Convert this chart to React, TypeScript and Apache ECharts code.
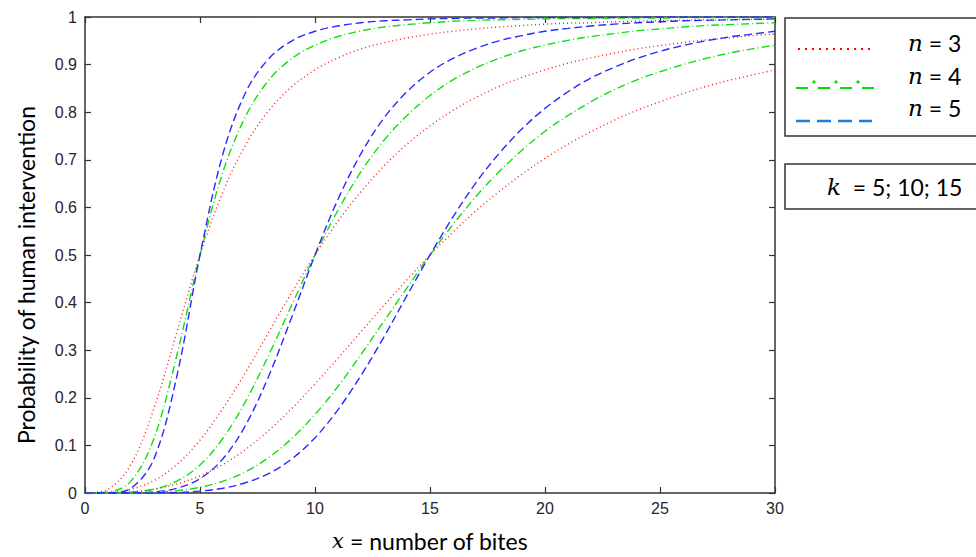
import React, { useEffect, useRef } from "react";
import * as echarts from "echarts";

// sample positions (number of bites)
const xs = [0, 1, 2, 3, 4, 5, 6, 7, 8, 9, 10, 11, 12, 13, 14, 15, 16, 17, 18, 19, 20, 21, 22, 23, 24, 25, 26, 27, 28, 29, 30];

// k = 5
const k5n3 = [0, 0.008, 0.06, 0.178, 0.339, 0.5, 0.633, 0.733, 0.804, 0.854, 0.889, 0.914, 0.933, 0.946, 0.956, 0.964, 0.97, 0.975, 0.979, 0.982, 0.985, 0.987, 0.988, 0.99, 0.991, 0.992, 0.993, 0.994, 0.994, 0.995, 0.995];
const k5n4 = [0, 0.002, 0.025, 0.115, 0.291, 0.5, 0.675, 0.793, 0.868, 0.913, 0.941, 0.959, 0.971, 0.979, 0.984, 0.988, 0.991, 0.993, 0.994, 0.995, 0.996, 0.997, 0.997, 0.998, 0.998, 0.998, 0.999, 0.999, 0.999, 0.999, 0.999];
const k5n5 = [0, 0.0003, 0.01, 0.072, 0.247, 0.5, 0.713, 0.843, 0.913, 0.95, 0.97, 0.981, 0.988, 0.992, 0.994, 0.996, 0.997, 0.998, 0.998, 0.999, 0.999, 0.999, 0.999, 0.999, 1, 1, 1, 1, 1, 1, 1];
// k = 10
const k10n3 = [0, 0.001, 0.008, 0.026, 0.06, 0.111, 0.178, 0.255, 0.339, 0.422, 0.5, 0.571, 0.633, 0.687, 0.733, 0.771, 0.804, 0.831, 0.854, 0.873, 0.889, 0.903, 0.914, 0.924, 0.933, 0.94, 0.946, 0.952, 0.956, 0.961, 0.964];
const k10n4 = [0, 0.0001, 0.002, 0.008, 0.025, 0.059, 0.115, 0.194, 0.291, 0.396, 0.5, 0.594, 0.675, 0.741, 0.793, 0.835, 0.868, 0.893, 0.913, 0.929, 0.941, 0.951, 0.959, 0.965, 0.971, 0.975, 0.979, 0.982, 0.984, 0.986, 0.988];
const k10n5 = [0, 0, 0.0003, 0.002, 0.01, 0.03, 0.072, 0.144, 0.247, 0.371, 0.5, 0.617, 0.713, 0.788, 0.843, 0.884, 0.913, 0.934, 0.95, 0.961, 0.97, 0.976, 0.981, 0.985, 0.988, 0.99, 0.992, 0.993, 0.994, 0.995, 0.996];
// k = 15
const k15n3 = [0, 0.0003, 0.002, 0.008, 0.019, 0.036, 0.06, 0.092, 0.132, 0.178, 0.229, 0.283, 0.339, 0.394, 0.448, 0.5, 0.548, 0.593, 0.633, 0.67, 0.703, 0.733, 0.759, 0.783, 0.804, 0.822, 0.839, 0.854, 0.867, 0.878, 0.889];
const k15n4 = [0, 0, 0.0003, 0.002, 0.005, 0.012, 0.025, 0.045, 0.075, 0.115, 0.165, 0.224, 0.291, 0.361, 0.431, 0.5, 0.564, 0.623, 0.675, 0.72, 0.76, 0.793, 0.822, 0.847, 0.868, 0.885, 0.9, 0.913, 0.924, 0.933, 0.941];
const k15n5 = [0, 0, 0, 0.0003, 0.001, 0.004, 0.01, 0.022, 0.041, 0.072, 0.116, 0.175, 0.247, 0.328, 0.415, 0.5, 0.58, 0.652, 0.713, 0.765, 0.808, 0.843, 0.872, 0.894, 0.913, 0.928, 0.94, 0.95, 0.958, 0.964, 0.97];

const legendLabels = ["3", "4", "5"];
const kLabel = "= 5; 10; 15";
const yTitle = "Probability of human intervention";

const RED = "#ff1a1a";
const GREEN = "#10e010";
const BLUE = "#2a2aff";

const styles: Record<string, { color: string; type: number[] }> = {
  n3: { color: RED, type: [1, 3] },
  n4: { color: GREEN, type: [8, 3, 1, 3] },
  n5: { color: BLUE, type: [8, 4] },
};

const seriesDefs = [
  { name: "n = 3, k = 5", vals: k5n3, s: "n3" },
  { name: "n = 4, k = 5", vals: k5n4, s: "n4" },
  { name: "n = 5, k = 5", vals: k5n5, s: "n5" },
  { name: "n = 3, k = 10", vals: k10n3, s: "n3" },
  { name: "n = 4, k = 10", vals: k10n4, s: "n4" },
  { name: "n = 5, k = 10", vals: k10n5, s: "n5" },
  { name: "n = 3, k = 15", vals: k15n3, s: "n3" },
  { name: "n = 4, k = 15", vals: k15n4, s: "n4" },
  { name: "n = 5, k = 15", vals: k15n5, s: "n5" },
];

export default function App() {
  const ref = useRef<HTMLDivElement>(null);
  useEffect(() => {
    if (!ref.current) return;
    const chart = echarts.init(ref.current, undefined, { renderer: "svg" });
    const mkLine = () => ({ show: true, onZero: false, lineStyle: { color: "#333", width: 1.5 } });
    const mkTick = () => ({ show: true, inside: true, length: 6, lineStyle: { color: "#333", width: 1.2 } });
    const labelFont = { color: "#262626", fontSize: 16, fontFamily: "Liberation Sans" };
    const mathFont = { fontFamily: "DejaVu Serif", fontStyle: "italic" as const, fontSize: 21, color: "#000" };
    chart.setOption({
      animation: false,
      backgroundColor: "#fff",
      grid: { left: 85, right: 201, top: 17, bottom: 60, show: false },
      xAxis: [
        {
          type: "value", min: 0, max: 30, interval: 5, position: "bottom",
          axisLine: mkLine(), axisTick: mkTick(), splitLine: { show: false },
          axisLabel: { ...labelFont, margin: 7 },
          name: "{i|x} = number of bites", nameLocation: "middle", nameGap: 36,
          nameTextStyle: {
            fontFamily: "Lato", fontSize: 23, color: "#000",
            rich: { i: mathFont },
          },
        },
        {
          type: "value", min: 0, max: 30, interval: 5, position: "top",
          axisLine: mkLine(), axisTick: mkTick(), axisLabel: { show: false }, splitLine: { show: false },
        },
      ],
      yAxis: [
        {
          type: "value", min: 0, max: 1, interval: 0.1, position: "left",
          axisLine: mkLine(), axisTick: mkTick(), splitLine: { show: false },
          axisLabel: { ...labelFont, margin: 8 },
        },
        {
          type: "value", min: 0, max: 1, interval: 0.1, position: "right",
          axisLine: mkLine(), axisTick: mkTick(), axisLabel: { show: false }, splitLine: { show: false },
        },
      ],
      series: seriesDefs.map((d) => ({
        name: d.name,
        type: "line",
        xAxisIndex: 0,
        yAxisIndex: 0,
        data: xs.map((x, i) => [x, d.vals[i]]),
        smooth: 0.35,
        showSymbol: false,
        symbol: "none",
        lineStyle: { color: styles[d.s].color, width: 1.4, type: styles[d.s].type },
        z: 3,
      })),
      graphic: [
        {
          type: "text", x: 26, y: 275, rotation: Math.PI / 2,
          style: { text: yTitle, fontFamily: "Lato", fontSize: 23, fill: "#000", align: "center", verticalAlign: "middle" },
        },
        { type: "rect", shape: { x: 785, y: 18, width: 200, height: 118 }, style: { fill: "#fff", stroke: "#333", lineWidth: 1.5 } },
        { type: "line", shape: { x1: 798, y1: 49, x2: 875, y2: 49 }, style: { stroke: "#ff0000", lineWidth: 2, lineDash: [2, 5] } },
        { type: "line", shape: { x1: 796, y1: 88, x2: 876, y2: 88 }, style: { stroke: "#00dd00", lineWidth: 2, lineDash: [12, 10] } },
        { type: "circle", shape: { cx: 814, cy: 82, r: 1.6 }, style: { fill: "#00dd00" } },
        { type: "circle", shape: { cx: 836, cy: 82, r: 1.6 }, style: { fill: "#00dd00" } },
        { type: "circle", shape: { cx: 858, cy: 82, r: 1.6 }, style: { fill: "#00dd00" } },
        { type: "line", shape: { x1: 796, y1: 121, x2: 872, y2: 121 }, style: { stroke: "#1f7fd6", lineWidth: 2.5, lineDash: [14, 7] } },
        ...legendLabels.map((v, i) => ({
          type: "text",
          x: 908,
          y: [43, 76, 108][i],
          style: {
            text: "{i|n} = " + v,
            fontFamily: "Lato", fontSize: 23, fill: "#000",
            verticalAlign: "middle",
            rich: { i: { ...mathFont, fill: "#000", fontSize: 23 } },
          },
        })),
        { type: "rect", shape: { x: 785, y: 164, width: 200, height: 45 }, style: { fill: "#fff", stroke: "#333", lineWidth: 1.5 } },
        {
          type: "text", x: 827, y: 187,
          style: {
            text: "{i|k}  " + kLabel,
            fontFamily: "Lato", fontSize: 23, fill: "#000", verticalAlign: "middle",
            rich: { i: { ...mathFont, fill: "#000", fontSize: 23 } },
          },
        },
      ],
    });
    return () => chart.dispose();
  }, []);
  return (
    <div
      ref={ref}
      style={{ position: "fixed", left: 0, top: 0, width: 976, height: 557, background: "#fff" }}
    />
  );
}
